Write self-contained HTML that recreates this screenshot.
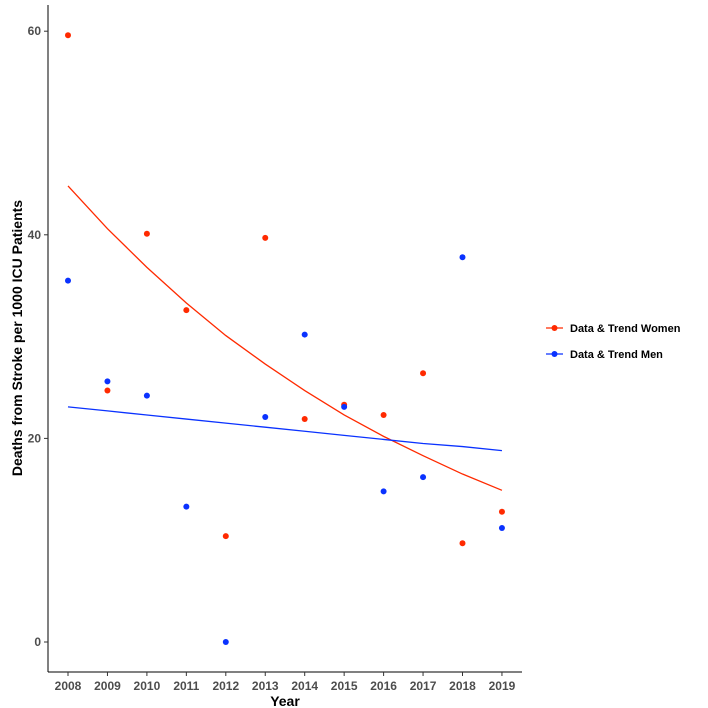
<!DOCTYPE html>
<html><head><meta charset="utf-8"><style>
body{margin:0;background:#fff;}
svg{display:block;font-family:"Liberation Sans",Arial,sans-serif;}
</style></head><body>
<svg id="chart" width="708" height="708">
<g id="axes"></g><g id="marks"></g>
<text x="285" y="706" text-anchor="middle" font-size="14" font-weight="bold" fill="#000">Year</text>
<text transform="translate(22,338) rotate(-90)" text-anchor="middle" font-size="14" font-weight="bold" fill="#000">Deaths from Stroke per 1000 ICU Patients</text>
<g>
<g>
<line x1="546" y1="328" x2="563" y2="328" stroke="#ff2a00" stroke-width="1.2"/>
<circle cx="554.5" cy="328" r="3" fill="#ff2a00"/>
<text x="570" y="332" font-size="11" font-weight="bold" fill="#000">Data &amp; Trend Women</text></g>
<g>
<line x1="546" y1="354" x2="563" y2="354" stroke="#0a32ff" stroke-width="1.2"/>
<circle cx="554.5" cy="354" r="3" fill="#0a32ff"/>
<text x="570" y="358" font-size="11" font-weight="bold" fill="#000">Data &amp; Trend Men</text></g>
</g>
</svg>
<script>
const years=[2008,2009,2010,2011,2012,2013,2014,2015,2016,2017,2018,2019];
const women=[59.6,24.7,40.1,32.6,10.4,39.7,21.9,23.3,22.3,26.4,9.7,12.8];
const men=[35.5,25.6,24.2,13.3,0,22.1,30.2,23.1,14.8,16.2,37.8,11.2];
const trendWomen=[44.8,40.6,36.8,33.3,30.1,27.3,24.7,22.3,20.2,18.3,16.5,14.9];
const trendMen=[23.1,22.7,22.3,21.9,21.5,21.1,20.7,20.3,19.9,19.5,19.2,18.8];
const yTicks=[0,20,40,60];
const NS="http://www.w3.org/2000/svg";
const X=v=>68+(v-2008)*39.45;
const Y=v=>642-v*10.18;
const axes=document.getElementById('axes'),marks=document.getElementById('marks');
function mk(tag,attrs,parent){const e=document.createElementNS(NS,tag);for(const k in attrs)e.setAttribute(k,attrs[k]);parent.appendChild(e);return e;}
let l=mk('line',{x1:48,y1:5,x2:48,y2:672,stroke:'#000','stroke-width':1},axes);


l=mk('line',{x1:48,y1:672,x2:522,y2:672,stroke:'#000','stroke-width':1},axes);


yTicks.forEach(t=>{
 mk('line',{x1:44,y1:Y(t),x2:48,y2:Y(t),stroke:'#333'},axes);
 const tx=mk('text',{x:41,y:Y(t)+4,'text-anchor':'end','font-size':12,'font-weight':'bold',fill:'#4d4d4d'},axes);
 tx.textContent=t;
 
 
});
years.forEach(y=>{
 mk('line',{x1:X(y),y1:672,x2:X(y),y2:676,stroke:'#333'},axes);
 const tx=mk('text',{x:X(y),y:690,'text-anchor':'middle','font-size':12,'font-weight':'bold',fill:'#4d4d4d'},axes);
 tx.textContent=y;
 
 
});
function line(vals,col,name){
 const p=mk('polyline',{points:vals.map((v,i)=>X(years[i])+','+Y(v)).join(' '),fill:'none',stroke:col,'stroke-width':1.3},marks);
 
 
}
function pts(vals,col,name){
 vals.forEach((v,i)=>{
  const c=mk('circle',{cx:X(years[i]),cy:Y(v),r:3,fill:col},marks);
  
  
 });
}
line(trendWomen,'#ff2a00','trend-line-women');
line(trendMen,'#0a32ff','trend-line-men');
pts(women,'#ff2a00','point-women');
pts(men,'#0a32ff','point-men');
</script>
</body></html>
